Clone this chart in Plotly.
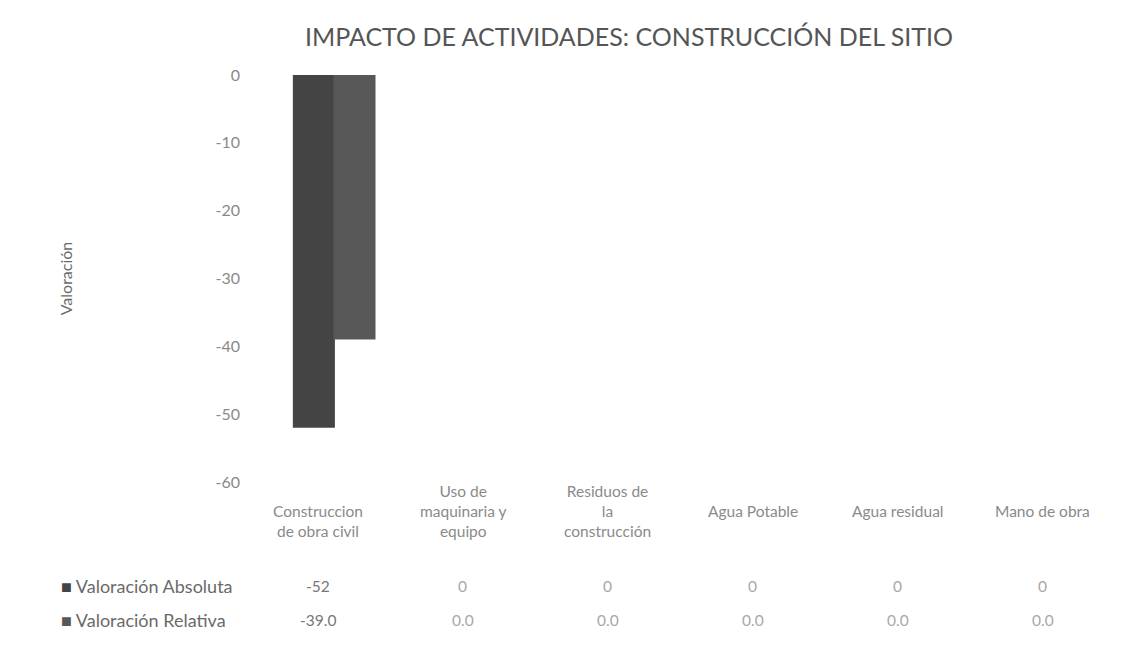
import plotly.graph_objects as go

# Activities and their impact scores
categories = [
    "Construccion<br>de obra civil",
    "Uso de<br>maquinaria y<br>equipo",
    "Residuos de<br>la<br>construcción",
    "Agua Potable",
    "Agua residual",
    "Mano de obra",
]
valoracion_absoluta = [-52, 0, 0, 0, 0, 0]
valoracion_relativa = [-39.0, 0.0, 0.0, 0.0, 0.0, 0.0]
series_names = ["Valoración Absoluta", "Valoración Relativa"]
y_ticks = [0, -10, -20, -30, -40, -50, -60]

FONT = "Lato"
LABEL_GREY = "#8a8a8a"
COLORS = ["#444444", "#585858"]

xs = list(range(len(categories)))

fig = go.Figure()
fig.add_trace(go.Bar(
    x=xs, y=valoracion_absoluta, name=series_names[0],
    marker=dict(color=COLORS[0], line=dict(width=0)),
    width=0.29, offset=-0.17,
))
fig.add_trace(go.Bar(
    x=xs, y=valoracion_relativa, name=series_names[1],
    marker=dict(color=COLORS[1], line=dict(width=0)),
    width=0.29, offset=0.11,
))

annotations = []
# category labels beneath the plot area; three-line labels start one line higher
for i, label in enumerate(categories):
    n_lines = label.count("<br>") + 1
    annotations.append(dict(
        x=i, y=0, xref="x", yref="paper", text=label, showarrow=False,
        xanchor="center", yanchor="top",
        yshift=2 if n_lines >= 3 else -18,
        font=dict(family=FONT, size=15.5, color=LABEL_GREY),
    ))

# data table rows under the categories
rows = [
    (series_names[0], [f"{v:d}" for v in valoracion_absoluta], COLORS[0], -0.255),
    (series_names[1], [f"{v:.1f}" for v in valoracion_relativa], COLORS[1], -0.34),
]
for name, texts, color, ypos in rows:
    annotations.append(dict(
        x=0, y=ypos, xref="paper", yref="paper", xshift=-186, showarrow=False,
        xanchor="left", yanchor="middle",
        text=f"<span style='color:{color}'>■</span> {name}",
        font=dict(family=FONT, size=18, color="#6a6a6a"),
    ))
    for i, t in enumerate(texts):
        annotations.append(dict(
            x=i, y=ypos, xref="x", yref="paper", text=t, showarrow=False,
            xanchor="center", yanchor="middle",
            font=dict(family=FONT, size=15.5,
                      color="#777777" if i == 0 else "#a8a8a8"),
        ))

fig.update_layout(
    width=1127, height=650,
    paper_bgcolor="white", plot_bgcolor="white",
    margin=dict(l=245, r=12, t=75, b=168),
    showlegend=False,
    barmode="group",
    title=dict(
        text="IMPACTO DE ACTIVIDADES: CONSTRUCCIÓN DEL SITIO",
        x=629 / 1127, xanchor="center", y=0.943, yanchor="middle",
        font=dict(family=FONT, size=25, color="#555555"),
    ),
    xaxis=dict(
        range=[-0.5, len(categories) - 0.5],
        showticklabels=False, showgrid=False, zeroline=False, showline=False,
        ticks="",
    ),
    yaxis=dict(
        range=[-60, 0], tickvals=y_ticks, ticktext=[str(v) for v in y_ticks],
        showgrid=False, zeroline=False, showline=False, ticks="",
        ticklabelstandoff=4,
        tickfont=dict(family=FONT, size=16, color=LABEL_GREY),
        title=dict(text="Valoración", standoff=138,
                   font=dict(family=FONT, size=16, color="#6a6a6a")),
    ),
    annotations=annotations,
)

fig.write_html("out.html")
